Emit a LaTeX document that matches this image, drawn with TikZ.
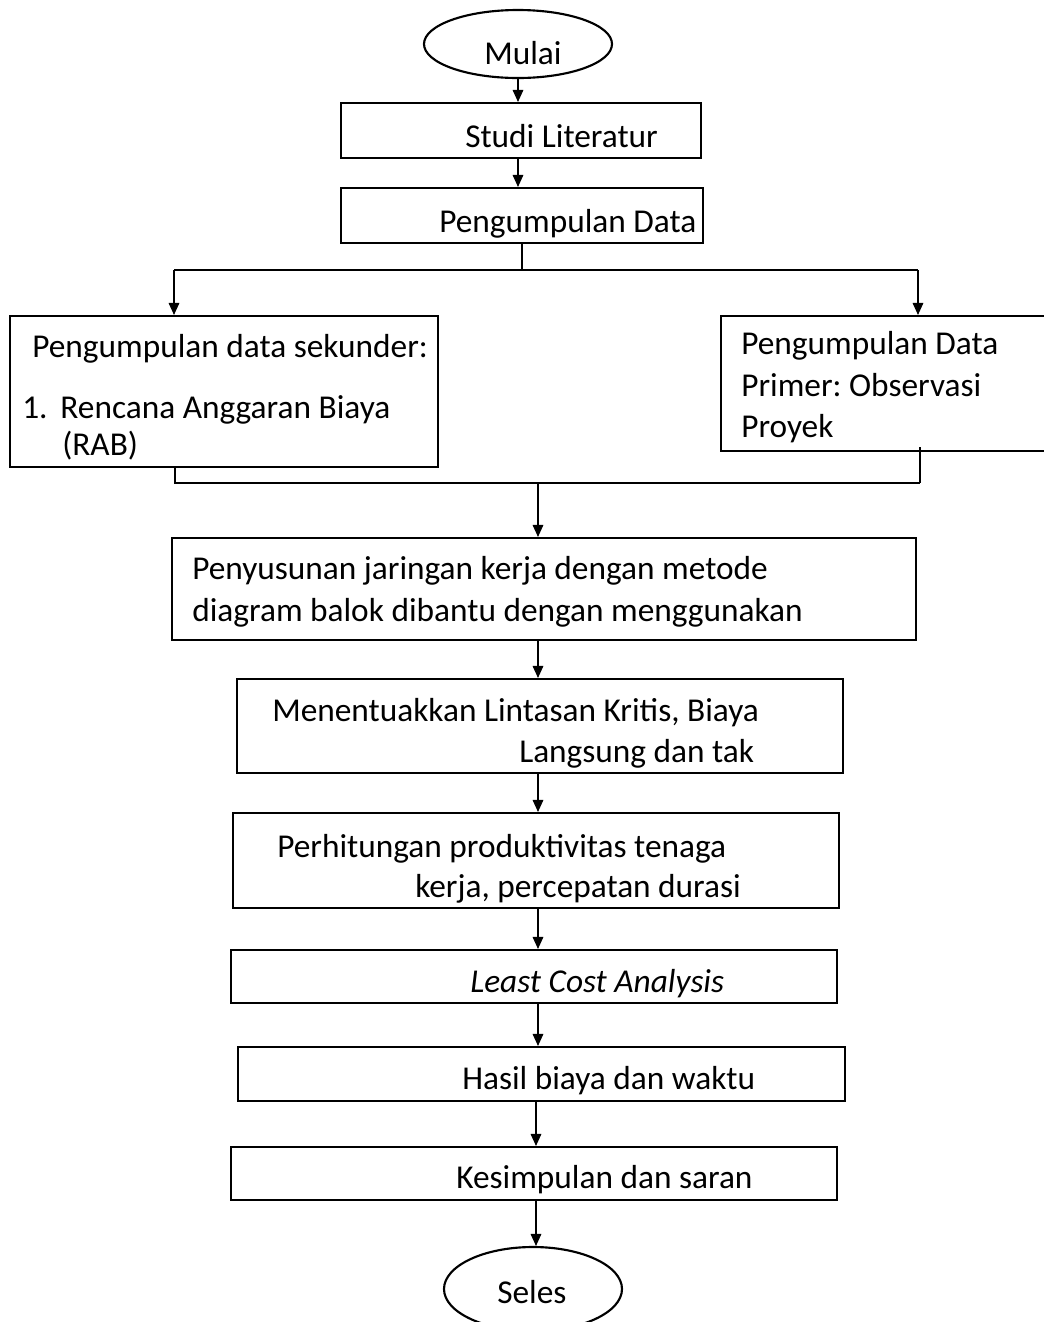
\documentclass[tikz,border=0pt]{standalone}
\usepackage{fontspec}
\setmainfont{Carlito}
\usetikzlibrary{shapes.geometric,arrows.meta}
\frenchspacing
\def\u{0.75pt}
\tikzset{
  box/.style={draw, line width=1.6pt, rectangle, inner sep=0pt},
  oval/.style={draw, line width=1.6pt, ellipse, inner sep=0pt},
  txt/.style={inner sep=0pt, anchor=base west, font=\fontsize{25}{29}\selectfont},
  con/.style={line width=0.8pt},
  arr/.style={line width=0.8pt, -{Triangle[length=9pt,width=8pt]}},
}
\begin{document}
\begin{tikzpicture}[x=0.75pt,y=-0.75pt]
\useasboundingbox (0,0) rectangle (1044,1322);
% shapes
\node[oval, minimum width=188*\u, minimum height=68*\u] (mulai) at (518,44) {};
\node[box, minimum width=360*\u, minimum height=55*\u] (studi) at (521,130.5) {};
\node[box, minimum width=362*\u, minimum height=55*\u] (pd) at (522,215.5) {};
\node[box, minimum width=428*\u, minimum height=151*\u] (sek) at (224,391.5) {};
\node[box, minimum width=340*\u, minimum height=135*\u] (pri) at (891,383.5) {};
\node[box, minimum width=744*\u, minimum height=102*\u] (pen) at (544,589) {};
\node[box, minimum width=606*\u, minimum height=94*\u] (men) at (540,726) {};
\node[box, minimum width=606*\u, minimum height=95*\u] (per) at (536,860.5) {};
\node[box, minimum width=606*\u, minimum height=53*\u] (lca) at (534,976.5) {};
\node[box, minimum width=607*\u, minimum height=54*\u] (has) at (541.5,1074) {};
\node[box, minimum width=606*\u, minimum height=53*\u] (kes) at (534,1173.5) {};
\node[oval, minimum width=178*\u, minimum height=84*\u] (seles) at (533,1289) {};
% texts
\node[txt] (tmulai) at (484,64) {Mulai};
\node[txt] (tstudi) at (465,147) {Studi Literatur};
\node[txt] (tpd) at (439,232) {Pengumpulan Data};
\node[txt] (tsek1) at (32,357) {Pengumpulan data sekunder:};
\node[txt] (tsek2) at (22,418) {1.\hspace{4pt} Rencana Anggaran Biaya};
\node[txt] (tsek3) at (62,455) {(RAB)};
\node[txt] (tpri1) at (741,354) {Pengumpulan Data};
\node[txt] (tpri2) at (741,396) {Primer: Observasi};
\node[txt] (tpri3) at (741,437) {Proyek};
\node[txt] (tpen1) at (192,579) {Penyusunan jaringan kerja dengan metode};
\node[txt] (tpen2) at (192,621) {diagram balok dibantu dengan menggunakan};
\node[txt] (tmen1) at (272,721) {Menentuakkan Lintasan Kritis, Biaya};
\node[txt] (tmen2) at (519,762) {Langsung dan tak};
\node[txt] (tper1) at (277,857) {Perhitungan produktivitas tenaga};
\node[txt] (tper2) at (415,897) {kerja, percepatan durasi};
\node[txt] (tlca) at (470,992) {\itshape Least Cost Analysis};
\node[txt] (thas) at (462,1089) {Hasil biaya dan waktu};
\node[txt] (tkes) at (456,1188) {Kesimpulan dan saran};
\node[txt] (tseles) at (497,1303) {Seles};
% junction coordinates
\coordinate (jL) at (174,270);
\coordinate (jR) at (918,270);
\coordinate (mL) at (175,483);
\coordinate (mR) at (920,483);
\coordinate (mRtop) at (920,447);
\coordinate (mC) at (538,483);
\coordinate (cA) at (536,0);
% connectors
\draw[arr] (mulai.south) -- (mulai.south |- studi.north);
\draw[arr] (mulai.south |- studi.south) -- (mulai.south |- pd.north);
\draw[con] (pd.south) -- (pd.south |- jL);
\draw[con] (jL) -- (jR);
\draw[arr] (jL) -- (jL |- sek.north);
\draw[arr] (jR) -- (jR |- pri.north);
\draw[con] (mL |- sek.south) -- (mL) -- (mR);
\draw[line width=1.6pt] (mRtop) -- (mR);
\draw[arr] (mC) -- (mC |- pen.north);
\draw[arr] (mC |- pen.south) -- (mC |- men.north);
\draw[arr] (mC |- men.south) -- (mC |- per.north);
\draw[arr] (mC |- per.south) -- (mC |- lca.north);
\draw[arr] (mC |- lca.south) -- (mC |- has.north);
\draw[arr] (cA |- has.south) -- (cA |- kes.north);
\draw[arr] (cA |- kes.south) -- (cA |- seles.north);
\end{tikzpicture}
\end{document}
